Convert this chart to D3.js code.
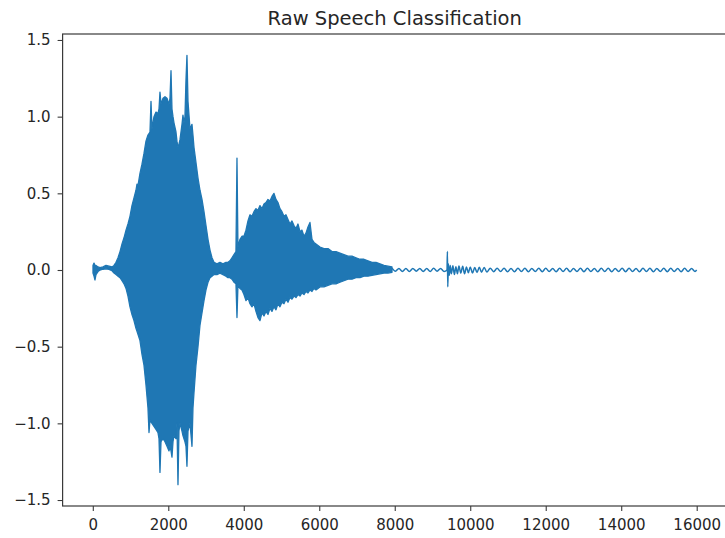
<!DOCTYPE html>
<html><head><meta charset="utf-8">
<script src="https://cdn.jsdelivr.net/npm/d3@7"></script>
<style>body{margin:0;background:#fff;} svg{display:block;}</style>
</head><body><svg id="c" width="725" height="538"></svg>
<script>
const chartTitle = "Raw Speech Classification";
const xTickValues = [0, 2000, 4000, 6000, 8000, 10000, 12000, 14000, 16000];
const yTickValues = [-1.5, -1.0, -0.5, 0.0, 0.5, 1.0, 1.5];

// Dense part of the waveform: per-bin max / min (sample index)
const envSample = [5,32,58,85,138,191,270,350,429,509,562,
  615,668,721,774,827,880,932,985,1038,1091,1144,1171,1197,1250,1303,1356,1409,1462,1489,1515,1542,1568,1621,1674,1727,1754,1780,1807,1860,1913,1966,2019,2045,2072,2098,2125,2151,2204,2230,2257,2283,2310,2363,2389,2416,2442,2469,2495,2522,2575,2628,2654,2681,2734,2787,2840,2893,2946,2999,3052,3105,3158,3211,
  3290,3369,3449,3528,3581,3634,3687,3740,3793,3820,3846,
  3899,3952,4005,4058,4111,4164,4217,4270,4323,4376,4429,4482,4535,4588,4641,4694,4747,4800,4853,4906,4959,5012,5065,5118,5171,5224,5277,5330,5383,5436,5489,5542,5595,5648,5701,5754,5807,5860,5913,5966,6019,
  6125,6231,6337,6443,6549,6655,6761,6867,6973,7079,7185,7291,7397,7503,7609,7715,7821,7927];
const envMax = [0.03,0.045,0.03,0.03,0.02,0.015,0.02,0.03,0.025,0.02,0.03,
  0.05,0.08,0.12,0.17,0.21,0.26,0.30,0.35,0.42,0.47,0.52,0.56,0.55,0.63,0.69,0.76,0.84,0.88,0.89,0.90,1.10,0.92,1.00,1.03,1.02,1.05,1.16,1.08,1.12,1.13,1.12,1.08,1.12,1.30,1.05,1.00,0.96,0.90,0.84,0.80,0.82,0.85,0.95,1.01,0.96,1.00,1.24,1.40,1.10,0.92,0.95,0.88,0.80,0.70,0.60,0.52,0.46,0.38,0.29,0.20,0.13,0.08,0.05,
  0.04,0.05,0.04,0.05,0.05,0.06,0.08,0.10,0.12,0.73,0.15,
  0.20,0.22,0.22,0.26,0.32,0.36,0.35,0.38,0.40,0.39,0.42,0.40,0.43,0.44,0.46,0.45,0.48,0.50,0.46,0.44,0.40,0.38,0.35,0.36,0.33,0.30,0.32,0.29,0.27,0.30,0.25,0.26,0.22,0.24,0.28,0.31,0.20,0.18,0.17,0.16,0.15,
  0.14,0.14,0.12,0.12,0.11,0.10,0.09,0.09,0.08,0.07,0.07,0.06,0.05,0.05,0.04,0.03,0.025,0.02];
const envMin = [-0.02,-0.04,-0.065,-0.03,-0.01,0.0,0.005,0.008,0.004,-0.005,-0.02,
  -0.03,-0.04,-0.05,-0.07,-0.09,-0.12,-0.17,-0.24,-0.29,-0.33,-0.38,-0.40,-0.42,-0.46,-0.55,-0.62,-0.75,-0.90,-1.06,-0.98,-0.99,-1.00,-1.02,-1.04,-1.06,-1.10,-1.32,-1.12,-1.10,-1.12,-1.15,-1.18,-1.15,-1.18,-1.22,-1.12,-1.08,-1.10,-1.00,-1.40,-1.05,-1.00,-1.05,-1.08,-1.10,-1.12,-1.15,-1.28,-1.05,-1.00,-1.15,-0.90,-0.80,-0.62,-0.50,-0.36,-0.28,-0.20,-0.13,-0.08,-0.05,-0.04,-0.03,
  -0.03,-0.02,-0.03,-0.04,-0.05,-0.05,-0.06,-0.08,-0.09,-0.31,-0.10,
  -0.12,-0.13,-0.16,-0.20,-0.18,-0.22,-0.24,-0.22,-0.27,-0.31,-0.33,-0.28,-0.30,-0.27,-0.29,-0.25,-0.27,-0.24,-0.26,-0.22,-0.24,-0.21,-0.22,-0.19,-0.21,-0.18,-0.19,-0.17,-0.18,-0.16,-0.17,-0.15,-0.16,-0.14,-0.15,-0.13,-0.14,-0.12,-0.13,-0.12,-0.11,
  -0.11,-0.10,-0.09,-0.09,-0.08,-0.07,-0.06,-0.06,-0.05,-0.05,-0.04,-0.04,-0.035,-0.03,-0.025,-0.02,-0.02,-0.015];

// Quiet tail: individual samples of the low ripple
const tailSample = [7927,8019,8111,8203,8295,8387,8479,8571,8663,8755,8847,8939,9031,9123,9215,9307,
  9385,9395,9405,9420,9445,9470,9500,9540,9580,9620,9660,9700,9750,9800,9850,9900,9950,10000,10060,10120,10180,10240,10300,10370,10440,10530,10620,
  10712,10804,10896,10988,11080,11172,11264,11356,11448,11540,11632,11724,11816,11908,12000,12092,12184,12276,12368,12460,12552,12644,12736,12828,12920,13012,13104,13196,13288,13380,13472,13564,13656,13748,13840,13932,14024,14116,14208,14300,14392,14484,14576,14668,14760,14852,14944,15036,15128,15220,15312,15404,15496,15588,15680,15772,15864,15956,15999];
const tailValue = [0.012,-0.008,0.010,-0.009,0.009,-0.010,0.010,-0.008,0.010,-0.009,0.009,-0.010,0.011,-0.008,0.010,-0.010,
  0.0,0.12,-0.11,0.04,-0.035,0.03,-0.025,0.028,-0.03,0.022,-0.025,0.026,-0.02,0.024,-0.025,0.02,-0.018,0.02,-0.02,0.016,-0.016,0.018,-0.014,0.016,-0.013,0.012,-0.011,
  0.011,-0.010,0.011,-0.011,0.010,-0.011,0.011,-0.010,0.011,-0.011,0.010,-0.010,0.011,-0.011,0.011,-0.010,0.010,-0.011,0.011,-0.010,0.011,-0.011,0.010,-0.010,0.011,-0.011,0.011,-0.010,0.010,-0.011,0.011,-0.010,0.011,-0.011,0.010,-0.010,0.011,-0.011,0.011,-0.010,0.010,-0.011,0.011,-0.010,0.011,-0.011,0.010,-0.010,0.011,-0.011,0.011,-0.010,0.010,-0.011,0.011,-0.010,0.010,-0.009,0.0];

const plotLeft = 62.6, plotRight = 726.9, plotTop = 34, plotBottom = 506;
const lineColor = "#1f77b4";
const textColor = "#262626";
const fontFamily = "DejaVu Sans, sans-serif";

const svg = d3.select("#c");
const x = d3.scaleLinear().domain([-800, 16800]).range([plotLeft, plotRight]);
const y = d3.scaleLinear().domain([-1.539, 1.539]).range([plotBottom, plotTop]);

const env = envSample.map((s, i) => ({s, hi: envMax[i], lo: envMin[i]}));
const tail = tailSample.map((s, i) => ({s, v: tailValue[i]}));

const plot = svg.append("g");
plot.append("path")
  .datum(env)
  .attr("d", d3.area().x(d => x(d.s)).y0(d => y(d.lo)).y1(d => y(d.hi)))
  .attr("fill", lineColor)
  .attr("stroke", lineColor)
  .attr("stroke-width", 1.3)
  .attr("stroke-linejoin", "round");

plot.append("path")
  .datum(tail)
  .attr("d", d3.line().x(d => x(d.s)).y(d => y(d.v)).curve(d3.curveMonotoneX))
  .attr("fill", "none")
  .attr("stroke", lineColor)
  .attr("stroke-width", 1.5)
  .attr("stroke-linejoin", "round");

svg.append("rect")
  .attr("x", plotLeft).attr("y", plotTop)
  .attr("width", plotRight - plotLeft).attr("height", plotBottom - plotTop)
  .attr("fill", "none").attr("stroke", "#3a3a3a").attr("stroke-width", 1.2);

const xAxis = svg.append("g")
  .attr("transform", `translate(0,${plotBottom})`)
  .call(d3.axisBottom(x).tickValues(xTickValues).tickFormat(d3.format("d")).tickSize(5).tickPadding(8).tickSizeOuter(0));
const yAxis = svg.append("g")
  .attr("transform", `translate(${plotLeft},0)`)
  .call(d3.axisLeft(y).tickValues(yTickValues).tickFormat(d3.format(".1f")).tickSize(5).tickPadding(7).tickSizeOuter(0));

[xAxis, yAxis].forEach(g => {
  g.select(".domain").remove();
  g.selectAll(".tick line").attr("stroke", "#3a3a3a").attr("stroke-width", 1.1);
  g.selectAll(".tick text").attr("fill", textColor).style("font-family", fontFamily).style("font-size", "15px");
});

svg.append("text")
  .attr("x", (plotLeft + plotRight) / 2).attr("y", 24.5)
  .attr("text-anchor", "middle")
  .attr("fill", textColor)
  .style("font-family", fontFamily).style("font-size", "19.5px")
  .text(chartTitle);
</script></body></html>
